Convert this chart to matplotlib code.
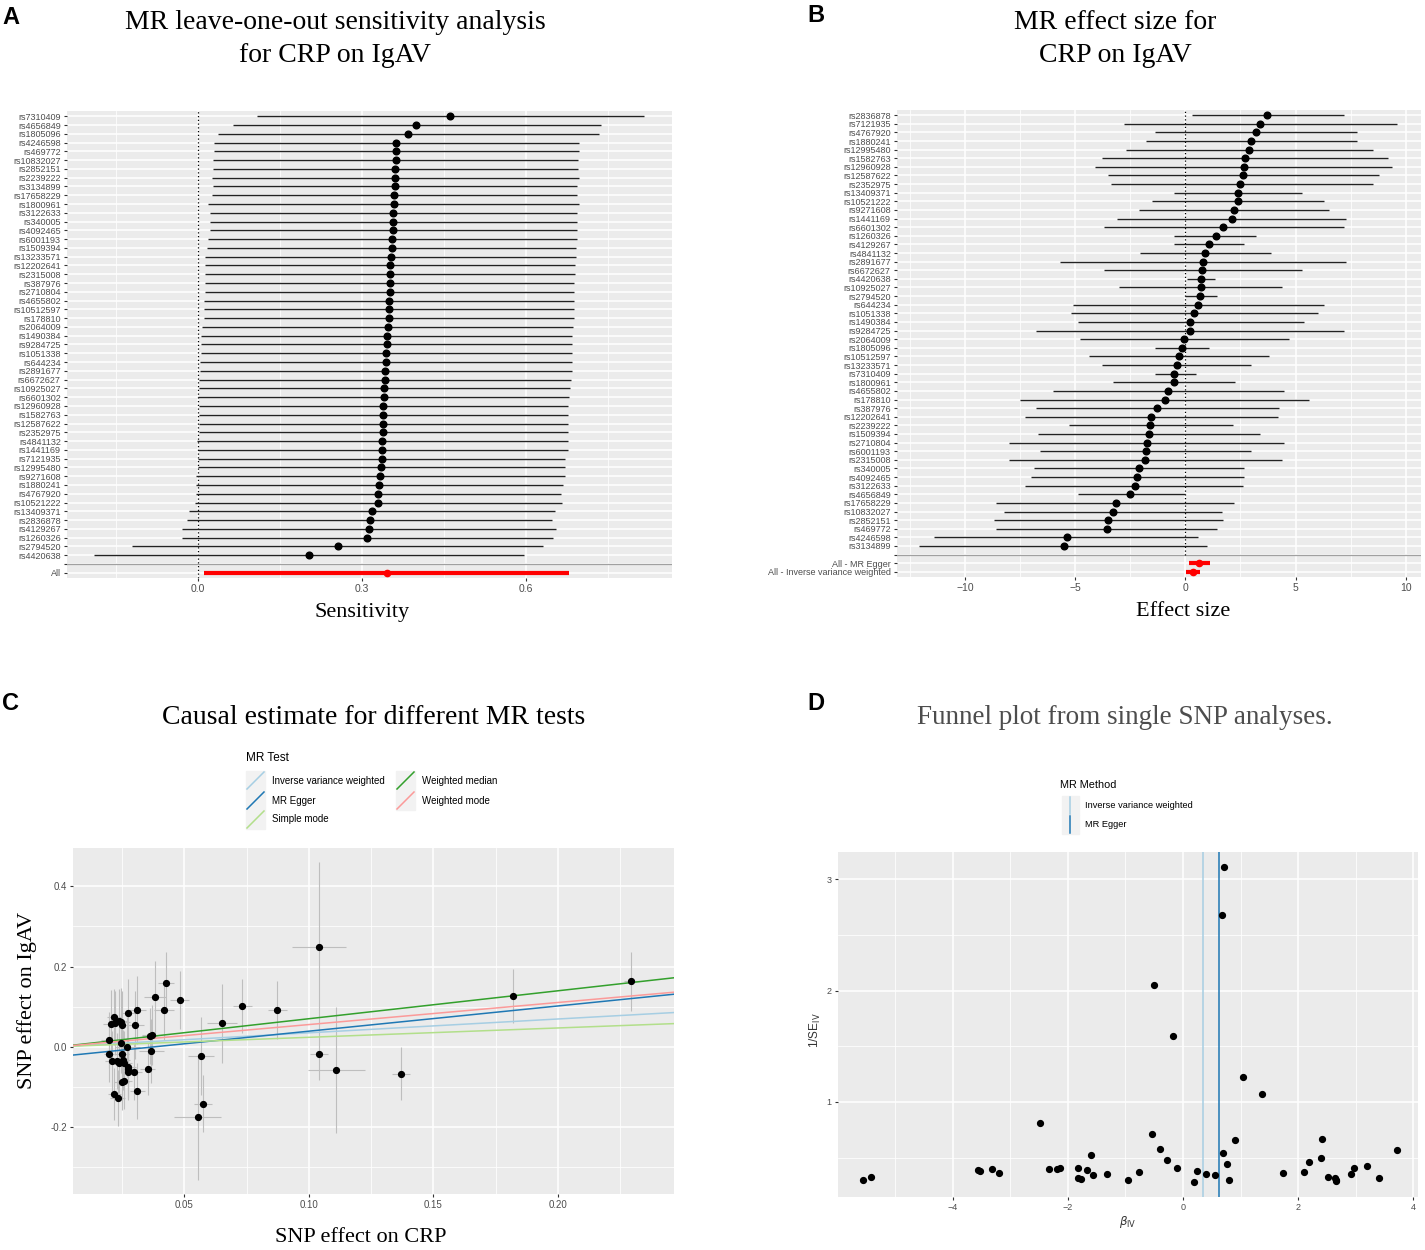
import numpy as np
import matplotlib
matplotlib.use("Agg")
import matplotlib.pyplot as plt
from matplotlib.patches import Rectangle

# ---- Panel A: leave-one-out (top to bottom) ----
loo_snps = ["rs7310409", "rs4656849", "rs1805096", "rs4246598", "rs469772", "rs10832027",
            "rs2852151", "rs2239222", "rs3134899", "rs17658229", "rs1800961", "rs3122633",
            "rs340005", "rs4092465", "rs6001193", "rs1509394", "rs13233571", "rs12202641",
            "rs2315008", "rs387976", "rs2710804", "rs4655802", "rs10512597", "rs178810",
            "rs2064009", "rs1490384", "rs9284725", "rs1051338", "rs644234", "rs2891677",
            "rs6672627", "rs10925027", "rs6601302", "rs12960928", "rs1582763", "rs12587622",
            "rs2352975", "rs4841132", "rs1441169", "rs7121935", "rs12995480", "rs9271608",
            "rs1880241", "rs4767920", "rs10521222", "rs13409371", "rs2836878", "rs4129267",
            "rs1260326", "rs2794520", "rs4420638"]
loo_est = [0.462, 0.400, 0.385, 0.363, 0.363, 0.362, 0.361, 0.360, 0.360, 0.359, 0.358, 0.357,
           0.357, 0.357, 0.355, 0.355, 0.353, 0.352, 0.352, 0.351, 0.351, 0.350, 0.350, 0.349,
           0.347, 0.346, 0.346, 0.345, 0.344, 0.343, 0.342, 0.341, 0.340, 0.339, 0.339, 0.338,
           0.338, 0.337, 0.337, 0.336, 0.335, 0.333, 0.332, 0.330, 0.329, 0.318, 0.314, 0.313,
           0.310, 0.256, 0.203]
loo_lo = [0.108, 0.064, 0.036, 0.029, 0.029, 0.028, 0.027, 0.025, 0.027, 0.025, 0.018, 0.021,
          0.021, 0.021, 0.019, 0.016, 0.013, 0.013, 0.013, 0.012, 0.012, 0.011, 0.010, 0.010,
          0.008, 0.006, 0.006, 0.005, 0.004, 0.004, 0.002, 0.002, 0.000, 0.002, 0.001, 0.001,
          0.001, -0.002, 0.000, 0.000, 0.000, -0.003, -0.003, -0.004, -0.006, -0.017, -0.021,
          -0.030, -0.030, -0.121, -0.190]
loo_hi = [0.817, 0.738, 0.735, 0.697, 0.697, 0.696, 0.695, 0.697, 0.694, 0.694, 0.698, 0.694,
          0.694, 0.694, 0.694, 0.692, 0.693, 0.690, 0.690, 0.689, 0.689, 0.689, 0.689, 0.688,
          0.687, 0.685, 0.685, 0.685, 0.685, 0.684, 0.683, 0.682, 0.679, 0.677, 0.677, 0.677,
          0.677, 0.678, 0.677, 0.672, 0.672, 0.672, 0.668, 0.665, 0.666, 0.654, 0.649, 0.656,
          0.650, 0.632, 0.597]
loo_all = [0.346, 0.011, 0.680]  # est, lo, hi

# ---- Panel B: single SNP effect sizes (top to bottom) ----
fp_snps = ["rs2836878", "rs7121935", "rs4767920", "rs1880241", "rs12995480", "rs1582763",
           "rs12960928", "rs12587622", "rs2352975", "rs13409371", "rs10521222", "rs9271608",
           "rs1441169", "rs6601302", "rs1260326", "rs4129267", "rs4841132", "rs2891677",
           "rs6672627", "rs4420638", "rs10925027", "rs2794520", "rs644234", "rs1051338",
           "rs1490384", "rs9284725", "rs2064009", "rs1805096", "rs10512597", "rs13233571",
           "rs7310409", "rs1800961", "rs4655802", "rs178810", "rs387976", "rs12202641",
           "rs2239222", "rs1509394", "rs2710804", "rs6001193", "rs2315008", "rs340005",
           "rs4092465", "rs3122633", "rs4656849", "rs17658229", "rs10832027", "rs2852151",
           "rs469772", "rs4246598", "rs3134899"]
fp_est = [3.7, 3.4, 3.2, 3.0, 2.9, 2.7, 2.65, 2.6, 2.5, 2.4, 2.4, 2.2, 2.1, 1.7, 1.4, 1.05,
          0.9, 0.8, 0.77, 0.7, 0.7, 0.68, 0.58, 0.41, 0.23, 0.19, -0.08, -0.17, -0.3, -0.4,
          -0.5, -0.54, -0.77, -0.95, -1.3, -1.55, -1.6, -1.66, -1.76, -1.8, -1.82, -2.13,
          -2.18, -2.3, -2.5, -3.17, -3.3, -3.5, -3.56, -5.4, -5.5]
fp_lo = [0.3, -2.8, -1.4, -1.8, -2.7, -3.8, -4.1, -3.5, -3.4, -0.5, -1.5, -2.1, -3.1, -3.7,
         -0.5, -0.5, -2.05, -5.7, -3.7, 0.06, -3.0, 0.0, -5.1, -5.2, -4.9, -6.8, -4.8, -1.4,
         -4.4, -3.8, -1.4, -3.3, -6.0, -7.5, -6.8, -7.3, -5.3, -6.7, -8.0, -6.6, -8.0, -6.9,
         -7.0, -7.3, -4.9, -8.6, -8.25, -8.7, -8.6, -11.4, -12.1]
fp_hi = [7.2, 9.6, 7.8, 7.8, 8.5, 9.2, 9.4, 8.8, 8.5, 5.3, 6.3, 6.5, 7.3, 7.2, 3.2, 2.65,
         3.9, 7.3, 5.3, 1.33, 4.4, 1.43, 6.3, 6.0, 5.4, 7.2, 4.7, 1.08, 3.8, 3.0, 0.48, 2.24,
         4.5, 5.6, 4.25, 4.2, 2.15, 3.4, 4.5, 3.0, 4.4, 2.65, 2.67, 2.6, -0.04, 2.2, 1.66,
         1.7, 1.43, 0.56, 1.0]
fp_summary_labels = ["All - MR Egger", "All - Inverse variance weighted"]
fp_summary_est = [0.62, 0.33]
fp_summary_lo = [0.17, 0.02]
fp_summary_hi = [1.10, 0.66]

# ---- Panel C: SNP effects on exposure / outcome ----
sc_x = [0.0195, 0.0198, 0.0206, 0.0217, 0.0222, 0.0210, 0.0218, 0.0229, 0.0231, 0.0238,
        0.0245, 0.0247, 0.0246, 0.0249, 0.0253, 0.0255, 0.0247, 0.0258, 0.0235, 0.0270,
        0.0273, 0.0275, 0.0273, 0.0274, 0.0298, 0.0303, 0.0310, 0.0310, 0.0353, 0.0360,
        0.0369, 0.0366, 0.0382, 0.0418, 0.0426, 0.0480, 0.0553, 0.0567, 0.0575, 0.0650,
        0.0733, 0.0873, 0.1040, 0.1040, 0.1110, 0.1369, 0.1822, 0.2296]
sc_y = [0.017, -0.018, 0.056, 0.074, 0.059, -0.037, -0.118, -0.036, -0.129, 0.064,
        0.062, 0.053, 0.010, -0.018, -0.033, -0.042, -0.088, -0.086, -0.040, 0.000,
        0.083, -0.050, -0.063, -0.057, -0.063, 0.053, 0.091, -0.111, -0.057, 0.026,
        0.028, -0.010, 0.124, 0.092, 0.160, 0.117, -0.176, -0.023, -0.143, 0.058,
        0.101, 0.092, 0.250, -0.018, -0.059, -0.068, 0.126, 0.163]
sc_xse = [0.003, 0.002, 0.0035, 0.003, 0.003, 0.003, 0.0025, 0.003, 0.003, 0.003,
          0.0035, 0.003, 0.004, 0.003, 0.003, 0.0035, 0.003, 0.003, 0.0035, 0.005,
          0.003, 0.003, 0.003, 0.003, 0.003, 0.0035, 0.0035, 0.003, 0.003, 0.003,
          0.004, 0.005, 0.0045, 0.004, 0.0033, 0.0037, 0.0095, 0.0053, 0.0036, 0.006,
          0.0037, 0.0037, 0.0107, 0.0037, 0.0115, 0.0036, 0.001, 0.003]
sc_yse = [0.07, 0.07, 0.085, 0.07, 0.08, 0.075, 0.065, 0.07, 0.07, 0.08,
          0.085, 0.085, 0.075, 0.07, 0.075, 0.08, 0.07, 0.07, 0.075, 0.075,
          0.085, 0.075, 0.07, 0.075, 0.07, 0.085, 0.085, 0.07, 0.065, 0.07,
          0.075, 0.08, 0.089, 0.075, 0.076, 0.072, 0.156, 0.098, 0.071, 0.098,
          0.068, 0.072, 0.21, 0.065, 0.157, 0.066, 0.068, 0.074]
mr_methods = ["Inverse variance weighted", "MR Egger", "Simple mode", "Weighted median", "Weighted mode"]
mr_slopes = [0.345, 0.629, 0.233, 0.697, 0.551]
mr_intercepts = [0.0, -0.0243, 0.0, 0.0, 0.0]
mr_colors = ["#a6cee3", "#1f78b4", "#b2df8a", "#33a02c", "#fb9a99"]

# ---- Panel D: funnel plot (same SNP order as panel B) ----
funnel_beta = [3.71, 3.41, 3.19, 2.97, 2.91, 2.65, 2.65, 2.64, 2.52, 2.42, 2.40, 2.18, 2.10,
               1.73, 1.37, 1.05, 0.90, 0.80, 0.76, 0.71, 0.69, 0.68, 0.56, 0.40, 0.24, 0.19,
               -0.10, -0.17, -0.28, -0.40, -0.51, -0.53, -0.76, -0.95, -1.32, -1.56, -1.60,
               -1.67, -1.77, -1.83, -1.83, -2.13, -2.18, -2.33, -2.49, -3.19, -3.32, -3.53,
               -3.56, -5.42, -5.56]
funnel_inv_se = [0.57, 0.32, 0.425, 0.41, 0.35, 0.29, 0.30, 0.32, 0.33, 0.67, 0.50, 0.46, 0.37,
                 0.36, 1.07, 1.22, 0.66, 0.30, 0.44, 3.11, 0.54, 2.68, 0.34, 0.35, 0.38, 0.28,
                 0.41, 1.59, 0.48, 0.58, 2.05, 0.71, 0.37, 0.30, 0.35, 0.34, 0.52, 0.39, 0.31,
                 0.32, 0.41, 0.41, 0.40, 0.395, 0.81, 0.365, 0.395, 0.38, 0.39, 0.33, 0.30]
funnel_methods = ["Inverse variance weighted", "MR Egger"]
funnel_lines = [0.34, 0.62]
funnel_colors = ["#a6cee3", "#1f78b4"]

W, H = 1425, 1250
SERIF = ["Liberation Serif", "DejaVu Serif"]
NARROW = ["Liberation Sans Narrow", "Liberation Sans", "DejaVu Sans"]
SANS = ["Liberation Sans", "DejaVu Sans"]

fig = plt.figure(figsize=(W / 100, H / 100), dpi=100)


def px_axes(left, top, right, bottom):
    return fig.add_axes([left / W, 1 - bottom / H, (right - left) / W, (bottom - top) / H])


def gg_style(ax, family, size):
    ax.set_facecolor("#EBEBEB")
    for s in ax.spines.values():
        s.set_visible(False)
    ax.set_axisbelow(True)
    ax.grid(True, which="major", color="white", lw=1.1)
    ax.grid(True, which="minor", color="white", lw=0.55)
    ax.tick_params(which="major", length=2.5, width=0.8, color="#333333",
                   labelcolor="#4D4D4D", labelsize=size, pad=2)
    ax.tick_params(which="minor", length=0)
    for lab in ax.get_xticklabels() + ax.get_yticklabels():
        lab.set_family(family)


# ---------------- Panel A ----------------
axA = px_axes(67, 111, 672, 578)
n = len(loo_snps)
ya = np.arange(n + 2, 2, -1)
axA.hlines(ya, loo_lo, loo_hi, color="#222222", lw=1.0, zorder=3)
axA.plot(loo_est, ya, "o", color="black", ms=4.8, zorder=4)
axA.hlines(1, loo_all[1], loo_all[2], color="red", lw=3.0, zorder=3)
axA.plot(loo_all[0], 1, "o", color="red", ms=4.5, zorder=4)
axA.axhline(2, color="#A0A0A0", lw=0.9, zorder=2)
axA.axvline(0, color="black", ls=(0, (1, 2)), lw=0.9, zorder=2)
axA.set_xlim(-0.24, 0.868)
axA.set_ylim(0.4, n + 2.6)
axA.set_yticks(list(ya) + [2, 1])
axA.set_yticklabels(loo_snps + ["", "All"])
axA.set_xticks([0.0, 0.3, 0.6])
axA.set_xticklabels(["0.0", "0.3", "0.6"])
axA.set_xticks([-0.15, 0.15, 0.45, 0.75], minor=True)
gg_style(axA, NARROW, 7.5)
axA.tick_params(axis="y", labelsize=6.5)

# ---------------- Panel B ----------------
axB = px_axes(897, 110, 1421, 577)
m = len(fp_snps)
yb = np.arange(m + 3, 3, -1)
axB.hlines(yb, fp_lo, fp_hi, color="#222222", lw=1.0, zorder=3)
axB.plot(fp_est, yb, "o", color="black", ms=4.8, zorder=4)
ys = [2, 1]
axB.hlines(ys, fp_summary_lo, fp_summary_hi, color="red", lw=3.0, zorder=3)
axB.plot(fp_summary_est, ys, "o", color="red", ms=4.5, zorder=4)
axB.axhline(3, color="#A0A0A0", lw=0.9, zorder=2)
axB.vlines(0, 3, m + 4, color="black", linestyles=[(0, (1, 2))], lw=0.9, zorder=2)
axB.set_xlim(-13.1, 10.7)
axB.set_ylim(0.4, m + 3.6)
axB.set_yticks(list(yb) + [3] + ys)
axB.set_yticklabels(fp_snps + [""] + fp_summary_labels)
axB.set_xticks([-10, -5, 0, 5, 10])
axB.set_xticklabels(["\u221210", "\u22125", "0", "5", "10"])
axB.set_xticks([-12.5, -7.5, -2.5, 2.5, 7.5], minor=True)
gg_style(axB, NARROW, 7.5)
axB.tick_params(axis="y", labelsize=6.5)

# ---------------- Panel C ----------------
axC = px_axes(73, 848, 674, 1194)
axC.errorbar(sc_x, sc_y, xerr=sc_xse, yerr=sc_yse, fmt="none", ecolor="#BEBEBE",
             elinewidth=0.8, zorder=2)
axC.plot(sc_x, sc_y, "o", color="black", ms=4.2, zorder=4)
xl = np.array([0.0052, 0.2467])
for slope, icpt, col in zip(mr_slopes, mr_intercepts, mr_colors):
    axC.plot(xl, icpt + slope * xl, color=col, lw=1.1, zorder=3)
axC.set_xlim(0.0052, 0.2467)
axC.set_ylim(-0.368, 0.496)
axC.set_xticks([0.05, 0.10, 0.15, 0.20])
axC.set_xticklabels(["0.05", "0.10", "0.15", "0.20"])
axC.set_xticks([0.025, 0.075, 0.125, 0.175, 0.225], minor=True)
axC.set_yticks([-0.2, 0.0, 0.2, 0.4])
axC.set_yticklabels(["-0.2", "0.0", "0.2", "0.4"])
axC.set_yticks([-0.3, -0.1, 0.1, 0.3], minor=True)
gg_style(axC, SANS, 7)

# ---------------- Panel D ----------------
axD = px_axes(838, 852, 1418, 1197)
axD.plot(funnel_beta, funnel_inv_se, "o", color="black", ms=4.2, zorder=4)
for xv, col in zip(funnel_lines, funnel_colors):
    axD.axvline(xv, color=col, lw=1.1, zorder=3)
axD.set_xlim(-5.99, 4.08)
axD.set_ylim(0.146, 3.245)
axD.set_xticks([-4, -2, 0, 2, 4])
axD.set_xticklabels(["\u22124", "\u22122", "0", "2", "4"])
axD.set_xticks([-5, -3, -1, 1, 3], minor=True)
axD.set_yticks([1, 2, 3])
axD.set_yticklabels(["1", "2", "3"])
axD.set_yticks([0.5, 1.5, 2.5], minor=True)
gg_style(axD, SANS, 6.5)

# ---------------- overlay: titles, labels, legends ----------------
ov = fig.add_axes([0, 0, 1, 1], zorder=10)
ov.set_xlim(0, W)
ov.set_ylim(H, 0)
ov.axis("off")
ov.patch.set_alpha(0)

for letter, x, y in [("A", 11, 18), ("B", 816, 16), ("C", 11, 703), ("D", 816, 703)]:
    ov.text(x, y, letter, family=SANS, fontsize=17, fontweight="bold", ha="center", va="center")

ov.text(335, 39, "MR leave-one-out sensitivity analysis\nfor CRP on IgAV", family=SERIF,
        fontsize=20, ha="center", va="center", linespacing=1.38)
ov.text(1115, 39, "MR effect size for\nCRP on IgAV", family=SERIF,
        fontsize=20, ha="center", va="center", linespacing=1.38)
ov.text(362, 612, "Sensitivity", family=SERIF, fontsize=16, ha="center", va="center")
ov.text(1183, 612, "Effect size", family=SERIF, fontsize=16, ha="center", va="center")

ov.text(374, 718, "Causal estimate for different MR tests", family=SERIF, fontsize=20,
        ha="center", va="center")
ov.text(361, 1237, "SNP effect on CRP", family=SERIF, fontsize=16, ha="center", va="center")
ov.text(27, 1000, "SNP effect on IgAV", family=SERIF, fontsize=16, ha="center", va="center",
        rotation=90)

ov.text(1125, 718, "Funnel plot from single SNP analyses.", family=SERIF, fontsize=19.5,
        color="#4D4D4D", ha="center", va="center")
ov.text(1128, 1222, r"$\beta_{\mathrm{IV}}$", fontsize=8.5, color="#333333",
        ha="center", va="center")
ov.text(815, 1030, r"1/SE$_{\mathrm{IV}}$", family=SANS, fontsize=8.5, color="#333333",
        ha="center", va="center", rotation=90)

# legend panel C
ov.text(246, 758, "MR Test", family=SANS, fontsize=8.5, ha="left", va="center")
key_pos = [(246, 771), (246, 791), (246, 810), (396, 771), (396, 791)]
for (kx, ky), name, col in zip(key_pos, mr_methods, mr_colors):
    ov.add_patch(Rectangle((kx, ky), 19, 19, color="#F2F2F2", zorder=1))
    ov.plot([kx + 1, kx + 18], [ky + 18, ky + 1], color=col, lw=1.1, zorder=2)
    ov.text(kx + 26, ky + 9.5, name, family=SANS, fontsize=7, ha="left", va="center")

# legend panel D
ov.text(1060, 785, "MR Method", family=SANS, fontsize=7.8, ha="left", va="center")
for i, (name, col) in enumerate(zip(funnel_methods, funnel_colors)):
    ky = 796 + i * 19
    ov.add_patch(Rectangle((1062, ky), 17, 19, color="#F2F2F2", zorder=1))
    ov.plot([1070.5, 1070.5], [ky + 1, ky + 18], color=col, lw=1.1, zorder=2)
    ov.text(1085, ky + 9.5, name, family=SANS, fontsize=6.7, ha="left", va="center")

fig.savefig("out.png", dpi=100)
